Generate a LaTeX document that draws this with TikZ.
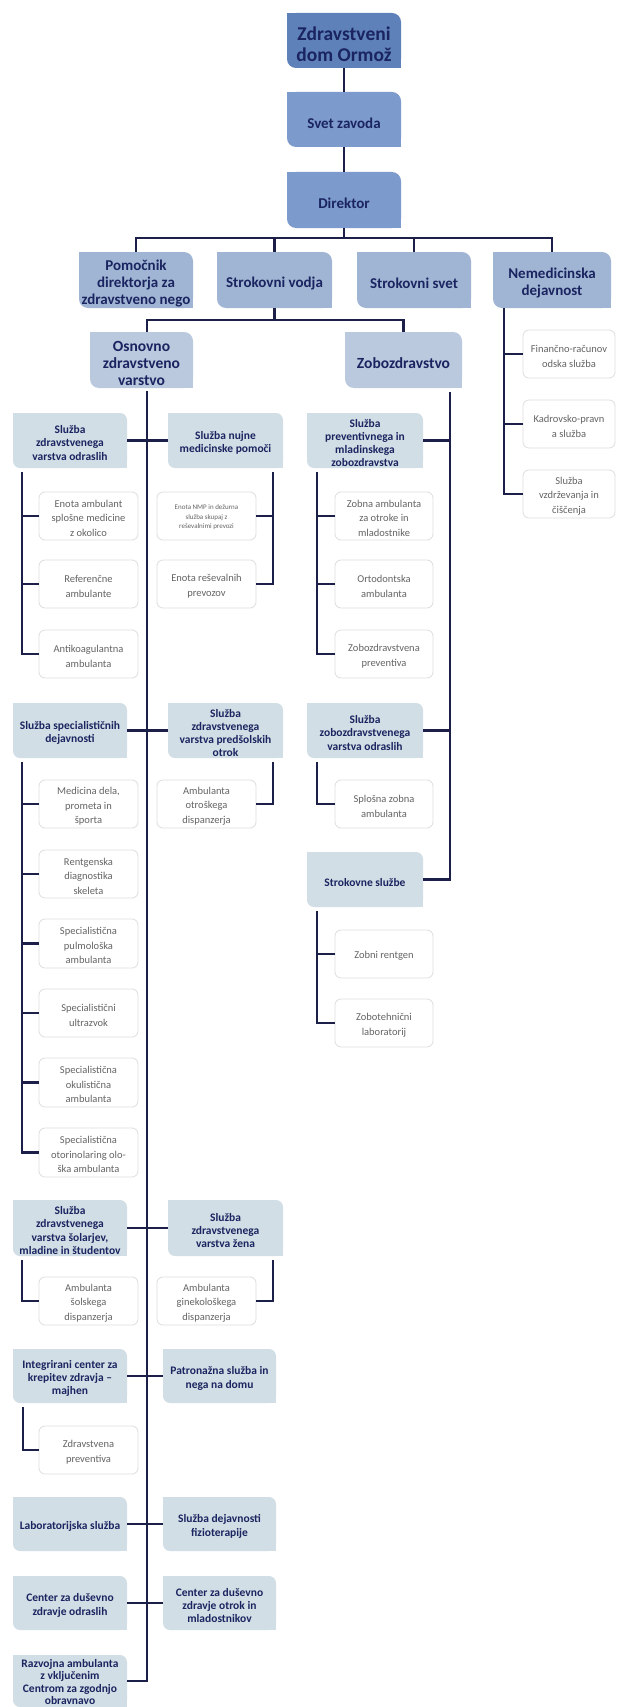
\documentclass[tikz,border=0pt]{standalone}
\usepackage{fontspec}
\setmainfont{Carlito}
\usetikzlibrary{fit,backgrounds}
\definecolor{cTop}{RGB}{94,129,186}
\definecolor{cMid}{RGB}{124,154,204}
\definecolor{cRow}{RGB}{160,181,211}
\definecolor{cSub}{RGB}{186,201,221}
\definecolor{cSvc}{RGB}{210,222,229}
\definecolor{cNavy}{RGB}{26,36,96}
\definecolor{cLine}{RGB}{28,32,72}
\definecolor{cGray}{RGB}{100,100,100}
\definecolor{cBorder}{RGB}{222,222,222}
% box node with its text as a centred label
\newcommand\bx[4]{\node[#1box, fit={#3}, label={[#1txt, name=#2t]center:{#4}}] (#2) {};}
\begin{document}
\begin{tikzpicture}[x=1pt,y=-1pt,
  bb/.style={inner sep=0pt, outer sep=0pt},
  tt/.style={inner sep=0pt, outer sep=0pt, align=center, text=cNavy},
  topbox/.style={bb},
  toptxt/.style={tt, font=\bfseries\fontsize{19.5}{21}\selectfont, yshift=-4pt},
  midbox/.style={bb},
  midtxt/.style={tt, font=\bfseries\fontsize{15}{17}\selectfont, yshift=-3.5pt},
  rowbox/.style={bb},
  rowtxt/.style={tt, font=\bfseries\fontsize{15}{17}\selectfont, yshift=-3.5pt},
  subbox/.style={bb},
  subtxt/.style={tt, font=\bfseries\fontsize{15.5}{17}\selectfont, yshift=-3.5pt},
  svcbox/.style={bb},
  svctxt/.style={tt, font=\bfseries\fontsize{11.5}{13.2}\selectfont, yshift=-2.5pt},
  razbox/.style={bb},
  raztxt/.style={tt, font=\bfseries\fontsize{11.5}{12.6}\selectfont, yshift=-1pt},
  kidbox/.style={bb, draw=cBorder, line width=0.8pt, fill=white, rounded corners=6pt},
  kidtxt/.style={tt, text=cGray, font=\fontsize{10.5}{14.5}\selectfont, yshift=-2.2pt},
  tinybox/.style={kidbox},
  tinytxt/.style={tt, text=cGray, font=\fontsize{7}{9.5}\selectfont, yshift=-1.5pt},
  ln/.style={draw=cLine, line width=2.3pt},
]
\useasboundingbox (0,0) rectangle (617,1707);

% top levels
\bx{top}{top}{(287,13) (401,68)}{Zdravstveni\\dom Ormož}
\bx{mid}{svet}{(287,92) (401,147)}{Svet zavoda}
\bx{mid}{dir}{(287,172) (401,228)}{Direktor}
\bx{row}{pom}{(79,252) (193,308)}{Pomočnik\\direktorja za\\zdravstveno nego}
\bx{row}{sv}{(217,252) (332,308)}{Strokovni vodja}
\bx{row}{ss}{(357,252) (471,308)}{Strokovni svet}
\bx{row}{nem}{(493,252) (611,308)}{Nemedicinska\\dejavnost}
\bx{sub}{osn}{(90,332) (193,388)}{Osnovno\\zdravstveno\\varstvo}
\bx{sub}{zob}{(345,332) (462,388)}{Zobozdravstvo}

% nemedicinska
\bx{kid}{fin}{(523,330) (615,378)}{Finančno-računov\\odska služba}
\bx{kid}{kad}{(523,400) (615,448)}{Kadrovsko-pravn\\a služba}
\bx{kid}{vzd}{(523,470) (615,518)}{Služba\\vzdrževanja in\\čiščenja}

% osnovno - services
\bx{svc}{odr}{(13,413) (127,468)}{Služba\\zdravstvenega\\varstva odraslih}
\bx{svc}{nuj}{(168,413) (283,468)}{Služba nujne\\medicinske pomoči}
\bx{kid}{ena}{(39,492) (138,540)}{Enota ambulant\\splošne medicine\\z okolico}
\bx{kid}{ref}{(39,560) (138,608)}{Referenčne\\ambulante}
\bx{kid}{anti}{(39,630) (138,678)}{Antikoagulantna\\ambulanta}
\bx{tiny}{nmp}{(157,492) (256,540)}{Enota NMP in dežurna\\služba skupaj z\\reševalnimi prevozi}
\bx{kid}{res}{(157,560) (256,608)}{Enota reševalnih\\prevozov}

\bx{svc}{spec}{(13,703) (127,758)}{Služba specialističnih\\dejavnosti}
\bx{svc}{pred}{(168,703) (283,758)}{Služba\\zdravstvenega\\varstva predšolskih\\otrok}
\bx{kid}{med}{(39,780) (138,828)}{Medicina dela,\\prometa in\\športa}
\bx{kid}{rent}{(39,850) (138,898)}{Rentgenska\\diagnostika\\skeleta}
\bx{kid}{pulm}{(39,919) (138,968)}{Specialistična\\pulmološka\\ambulanta}
\bx{kid}{ultra}{(39,989) (138,1037)}{Specialistični\\ultrazvok}
\bx{kid}{oku}{(39,1058) (138,1107)}{Specialistična\\okulistična\\ambulanta}
\bx{kid}{orl}{(39,1128) (138,1177)}{Specialistična\\otorinolaring olo-\\ška ambulanta}
\bx{kid}{otr}{(157,780) (256,828)}{Ambulanta\\otroškega\\dispanzerja}

\bx{svc}{sol}{(13,1200) (127,1256)}{Služba\\zdravstvenega\\varstva šolarjev,\\mladine in študentov}
\bx{svc}{zena}{(168,1200) (283,1256)}{Služba\\zdravstvenega\\varstva žena}
\bx{kid}{asol}{(39,1277) (138,1325)}{Ambulanta\\šolskega\\dispanzerja}
\bx{kid}{gin}{(157,1277) (256,1325)}{Ambulanta\\ginekološkega\\dispanzerja}

\bx{svc}{int}{(13,1349) (127,1403)}{Integrirani center za\\krepitev zdravja –\\majhen}
\bx{svc}{pat}{(163,1349) (276,1403)}{Patronažna služba in\\nega na domu}
\bx{kid}{zpr}{(39,1426) (138,1474)}{Zdravstvena\\preventiva}

\bx{svc}{lab}{(13,1497) (127,1551)}{Laboratorijska služba}
\bx{svc}{fiz}{(163,1497) (276,1551)}{Služba dejavnosti\\fizioterapije}
\bx{svc}{cdo}{(13,1576) (127,1630)}{Center za duševno\\zdravje odraslih}
\bx{svc}{cdm}{(163,1576) (276,1630)}{Center za duševno\\zdravje otrok in\\mladostnikov}
\bx{raz}{raz}{(13,1655) (127,1707)}{Razvojna ambulanta\\z vključenim\\Centrom za zgodnjo\\obravnavo}

% zobozdravstvo
\bx{svc}{prev}{(307,413) (423,468)}{Služba\\preventivnega in\\mladinskega\\zobozdravstva}
\bx{kid}{zamb}{(335,492) (433,540)}{Zobna ambulanta\\za otroke in\\mladostnike}
\bx{kid}{orto}{(335,560) (433,608)}{Ortodontska\\ambulanta}
\bx{kid}{zprev}{(335,630) (433,678)}{Zobozdravstvena\\preventiva}
\bx{svc}{zodr}{(307,703) (423,758)}{Služba\\zobozdravstvenega\\varstva odraslih}
\bx{kid}{splo}{(335,780) (433,828)}{Splošna zobna\\ambulanta}
\bx{svc}{strs}{(307,852) (423,907)}{Strokovne službe}
\bx{kid}{zrent}{(335,930) (433,978)}{Zobni rentgen}
\bx{kid}{zlab}{(335,999) (433,1047)}{Zobotehnični\\laboratorij}

% page background and box backgrounds (diagonal rounded corners)
\begin{scope}[on background layer]
\fill[white] (0,0) rectangle (617,1707);
\foreach \n/\c/\r in {top/cTop/9,svet/cMid/9,dir/cMid/9,pom/cRow/9,sv/cRow/9,ss/cRow/9,nem/cRow/9,osn/cSub/9,zob/cSub/9,
  odr/cSvc/7,nuj/cSvc/7,spec/cSvc/7,pred/cSvc/7,sol/cSvc/7,zena/cSvc/7,int/cSvc/7,pat/cSvc/7,lab/cSvc/7,fiz/cSvc/7,cdo/cSvc/7,cdm/cSvc/7,raz/cSvc/7,
  prev/cSvc/7,zodr/cSvc/7,strs/cSvc/7} {
  \fill[\c, rounded corners=\r pt] (\n.south west) rectangle (\n.north east);
  \fill[\c] (\n.north west) rectangle ([xshift=\r pt,yshift=-\r pt]\n.north west);
  \fill[\c] (\n.south east) rectangle ([xshift=-\r pt,yshift=\r pt]\n.south east);
}
\end{scope}

% top connectors
\draw[ln] (top.south) -- (svet.north);
\draw[ln] (svet.south) -- (dir.north);
\coordinate (b1) at ([yshift=-10pt]dir.south);
\draw[ln] (dir.south) -- (b1);
\draw[ln] (pom.north) |- (b1) -| (nem.north);
\draw[ln] (sv.north) -- (sv.north |- b1);
\draw[ln] (ss.north) -- (ss.north |- b1);

\coordinate (b2) at ([yshift=-12pt]sv.south);
\coordinate (osnn) at ([xshift=5.5pt]osn.north);
\coordinate (osnt) at ([xshift=5.5pt,yshift=-3pt]osn.south);
\draw[ln] (sv.south) -- (b2);
\draw[ln] (osnn) |- (b2) -| (zob.north);

% nemedicinska
\coordinate (nemt) at ([xshift=11pt]nem.south west);
\draw[ln] (nemt) |- (vzd.west);
\foreach \k in {fin,kad} \draw[ln] (\k.west) -- (\k.west -| nemt);

% osnovno trunk
\draw[ln] (osnt) |- (raz.east);
\foreach \a/\b in {odr/nuj,spec/pred,sol/zena,int/pat,lab/fiz,cdo/cdm}
  \draw[ln] (\a.east) -- (\b.west);

% left subtrees
\coordinate (t1) at ([xshift=9pt,yshift=-4pt]odr.south west);
\draw[ln] (t1) |- (anti.west);
\foreach \k in {ena,ref} \draw[ln] (\k.west) -- (\k.west -| t1);
\coordinate (t2) at ([xshift=9pt,yshift=-4pt]spec.south west);
\draw[ln] (t2) |- (orl.west);
\foreach \k in {med,rent,pulm,ultra,oku} \draw[ln] (\k.west) -- (\k.west -| t2);
\coordinate (t3) at ([xshift=9pt,yshift=-4pt]sol.south west);
\draw[ln] (t3) |- (asol.west);
\coordinate (t4) at ([xshift=10pt,yshift=-4pt]int.south west);
\draw[ln] (t4) |- (zpr.west);

% right subtrees
\coordinate (t5) at ([xshift=-10pt,yshift=-4pt]nuj.south east);
\draw[ln] (t5) |- (res.east);
\draw[ln] (nmp.east) -- (nmp.east -| t5);
\coordinate (t6) at ([xshift=-10pt,yshift=-4pt]pred.south east);
\draw[ln] (t6) |- (otr.east);
\coordinate (t7) at ([xshift=-10pt,yshift=-4pt]zena.south east);
\draw[ln] (t7) |- (gin.east);

% zobozdravstvo
\coordinate (zt) at ([xshift=-12pt,yshift=-4pt]zob.south east);
\draw[ln] (zt) |- (strs.east);
\foreach \k in {prev,zodr} \draw[ln] (\k.east) -- (\k.east -| zt);
\coordinate (t8) at ([xshift=10pt,yshift=-4pt]prev.south west);
\draw[ln] (t8) |- (zprev.west);
\foreach \k in {zamb,orto} \draw[ln] (\k.west) -- (\k.west -| t8);
\coordinate (t9) at ([xshift=10pt,yshift=-4pt]zodr.south west);
\draw[ln] (t9) |- (splo.west);
\coordinate (t10) at ([xshift=10pt,yshift=-4pt]strs.south west);
\draw[ln] (t10) |- (zlab.west);
\draw[ln] (zrent.west) -- (zrent.west -| t10);
\end{tikzpicture}
\end{document}
